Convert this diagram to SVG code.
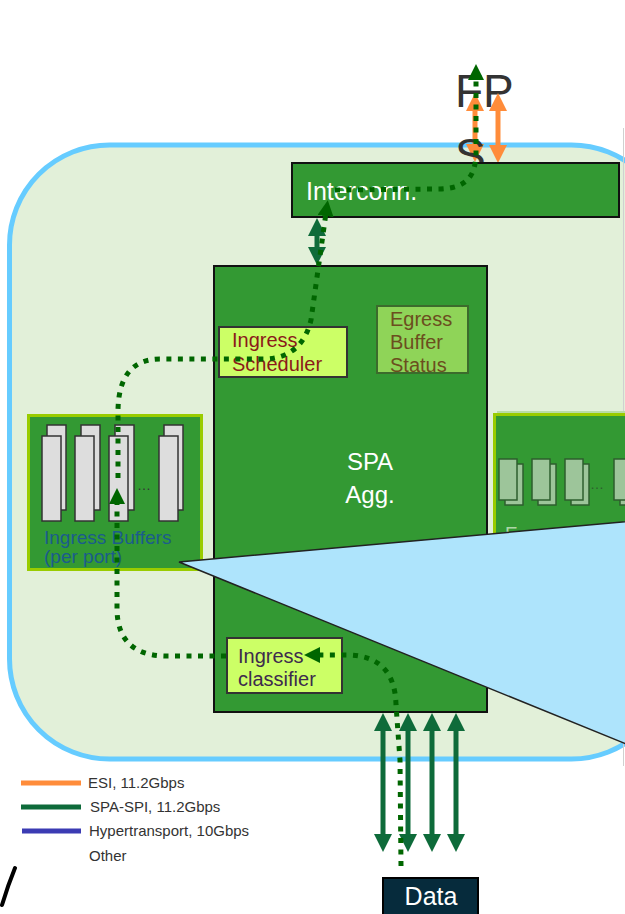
<svg xmlns="http://www.w3.org/2000/svg" width="625" height="914" viewBox="0 0 625 914">
<style>
text{font-family:"Liberation Sans",Arial,sans-serif}
.box{fill:#339933;stroke:#111;stroke-width:2}
.lbox{fill:#CCFF66;stroke:#333;stroke-width:2}
.dot{fill:none;stroke:#006600;stroke-width:5;stroke-dasharray:5 6.5}
.dotA{fill:none;stroke:#006600;stroke-width:5;stroke-dasharray:5 6.5;marker-end:url(#ah)}
.spi{stroke:#0E6B3A;stroke-width:5;fill:none;marker-start:url(#dg);marker-end:url(#dg)}
.esi{stroke:#FF8C3A;stroke-width:5;fill:none;marker-start:url(#og);marker-end:url(#og)}
.buf{fill:#DDDDDD;stroke:#333;stroke-width:1.5}
.ebuf{fill:#9DC59A;stroke:#2E5E2E;stroke-width:1.5}
.leg{font-size:15px;fill:#333}
</style>
<defs>
<marker id="ah" markerUnits="userSpaceOnUse" markerWidth="16" markerHeight="16" viewBox="0 0 16 16" refX="3" refY="8" orient="auto"><path d="M0,0 L16,8 L0,16 z" fill="#006600"/></marker>
<marker id="dg" markerUnits="userSpaceOnUse" markerWidth="18" markerHeight="18" viewBox="0 0 18 18" refX="3" refY="9" orient="auto-start-reverse"><path d="M0,0 L18,9 L0,18 z" fill="#0E6B3A"/></marker>
<marker id="og" markerUnits="userSpaceOnUse" markerWidth="18" markerHeight="18" viewBox="0 0 18 18" refX="3" refY="9" orient="auto-start-reverse"><path d="M0,0 L18,9 L0,18 z" fill="#FF8C3A"/></marker>
</defs>

<g id="frame">
<rect x="9.5" y="145" width="662" height="614" rx="100" ry="100" fill="#E2F0D9" stroke="#66CCFF" stroke-width="5"/>
<line x1="623.5" y1="128" x2="623.5" y2="766" stroke="#d0d0d0" stroke-width="1"/>
</g>

<g id="fps">
<text x="455" y="107" font-size="46" fill="#333">FP</text>
</g>

<g id="spa-agg">
<rect class="box" x="214" y="266" width="273" height="446"/>
<text x="370" y="470" font-size="24" fill="#fff" text-anchor="middle">SPA</text>
<text x="370" y="503" font-size="24" fill="#fff" text-anchor="middle">Agg.</text>
</g>

<g id="ingress-buffers">
<rect x="28.5" y="415.5" width="173" height="154" fill="#339933" stroke="#99CC00" stroke-width="3"/>
<rect class="buf" x="47" y="425" width="19" height="85"/>
<rect class="buf" x="42" y="436" width="19" height="85"/>
<rect class="buf" x="81" y="425" width="19" height="85"/>
<rect class="buf" x="75" y="436" width="19" height="85"/>
<rect class="buf" x="115" y="425" width="19" height="85"/>
<rect class="buf" x="109" y="436" width="19" height="85"/>
<rect class="buf" x="164" y="425" width="19" height="85"/>
<rect class="buf" x="159" y="436" width="19" height="85"/>
<text x="137" y="490" font-size="14" fill="#333">…</text>
<text x="44" y="544" font-size="19" fill="#1B5C8C">Ingress Buffers</text>
<text x="44" y="563" font-size="19" fill="#1B5C8C">(per port)</text>
</g>

<g id="egress-buffers">
<rect x="497" y="411" width="200" height="150" fill="#B9DCA6"/>
<rect x="494.5" y="414.5" width="200" height="150" fill="#339933" stroke="#99CC00" stroke-width="3"/>
<rect class="ebuf" x="505" y="464" width="18" height="41"/>
<rect class="ebuf" x="499" y="459" width="18" height="41"/>
<rect class="ebuf" x="538" y="464" width="18" height="41"/>
<rect class="ebuf" x="532" y="459" width="18" height="41"/>
<rect class="ebuf" x="571" y="464" width="18" height="41"/>
<rect class="ebuf" x="565" y="459" width="18" height="41"/>
<rect class="ebuf" x="620" y="464" width="18" height="41"/>
<rect class="ebuf" x="614" y="459" width="18" height="41"/>
<text x="590" y="489" font-size="14" fill="#2E5E2E">…</text>
<text x="505" y="540" font-size="19" fill="#CFE8C8" fill-opacity="0.8">E</text>
</g>

<g id="wedge">
<polygon points="179,562 700,515 700,774" fill="#AEE4FC" stroke="#222" stroke-width="1.5" stroke-linejoin="miter"/>
</g>

<g id="ingress-scheduler">
<rect class="lbox" x="219" y="327" width="128" height="50"/>
<text x="232" y="347" font-size="20" fill="#8B1A1A">Ingress</text>
<text x="232" y="371" font-size="20" fill="#8B1A1A">Scheduler</text>
</g>

<g id="egress-buffer-status">
<rect x="377" y="306" width="91" height="67" fill="#8FD458" stroke="#3C6B2C" stroke-width="2"/>
<text x="390" y="326" font-size="20" fill="#6B4E1E">Egress</text>
<text x="390" y="349" font-size="20" fill="#6B4E1E">Buffer</text>
<text x="390" y="372" font-size="20" fill="#6B4E1E">Status</text>
</g>

<g id="ingress-classifier">
<rect class="lbox" x="227" y="638" width="115" height="55"/>
<text x="238" y="663" font-size="20" fill="#3D2B4D">Ingress</text>
<text x="238" y="686" font-size="20" fill="#3D2B4D">classifier</text>
</g>

<g id="esi-arrows">
<path class="esi" d="M475 108 L475 147"/>
<path class="esi" d="M498 108 L498 148"/>
</g>

<g id="fps-s">
<text x="455" y="171" font-size="46" fill="#333">S</text>
</g>

<g id="interconn">
<rect class="box" x="292" y="163" width="327" height="54" stroke="#333"/>
<text x="306" y="200" font-size="25" fill="#fff">Interconn.</text>
</g>

<g id="data">
<rect x="383" y="878" width="95" height="40" fill="#062B3C" stroke="#000" stroke-width="2"/>
<text x="431" y="905" font-size="25" fill="#fff" text-anchor="middle">Data</text>
</g>

<g id="legend">
<line x1="21" y1="783" x2="81" y2="783" stroke="#FF8C3A" stroke-width="5"/>
<line x1="21" y1="807" x2="81" y2="807" stroke="#0E6B3A" stroke-width="5"/>
<line x1="22" y1="831" x2="81" y2="831" stroke="#3B3BB3" stroke-width="5"/>
<text class="leg" x="88" y="788">ESI, 11.2Gbps</text>
<text class="leg" x="90" y="812">SPA-SPI, 11.2Gbps</text>
<text class="leg" x="89" y="836">Hypertransport, 10Gbps</text>
<text class="leg" x="89" y="861">Other</text>
<path d="M15 868 Q8 885 2 905" fill="none" stroke="#000" stroke-width="4" stroke-linecap="round"/>
</g>

<g id="connectors">
<path class="spi" d="M317 233 L317 250"/>
<path class="spi" d="M383 728 L383 837"/>
<path class="spi" d="M408 728 L408 837"/>
<path class="spi" d="M432 728 L432 837"/>
<path class="spi" d="M456 728 L456 837"/>
<path class="dotA" d="M401 866 L400 760 L396 705 Q395 657 350 655 L317 655"/>
<path class="dotA" d="M226 656 L165 656 Q118 655 117 610 L117 501"/>
<path class="dotA" d="M118 478 L118 410 Q119 359 160 359 L265 359 C290 358 305 345 311 320 L326 213"/>
<path class="dotA" d="M335 190 L440 189 C465 188 475 178 476 155 L476 77"/>
</g>
</svg>
